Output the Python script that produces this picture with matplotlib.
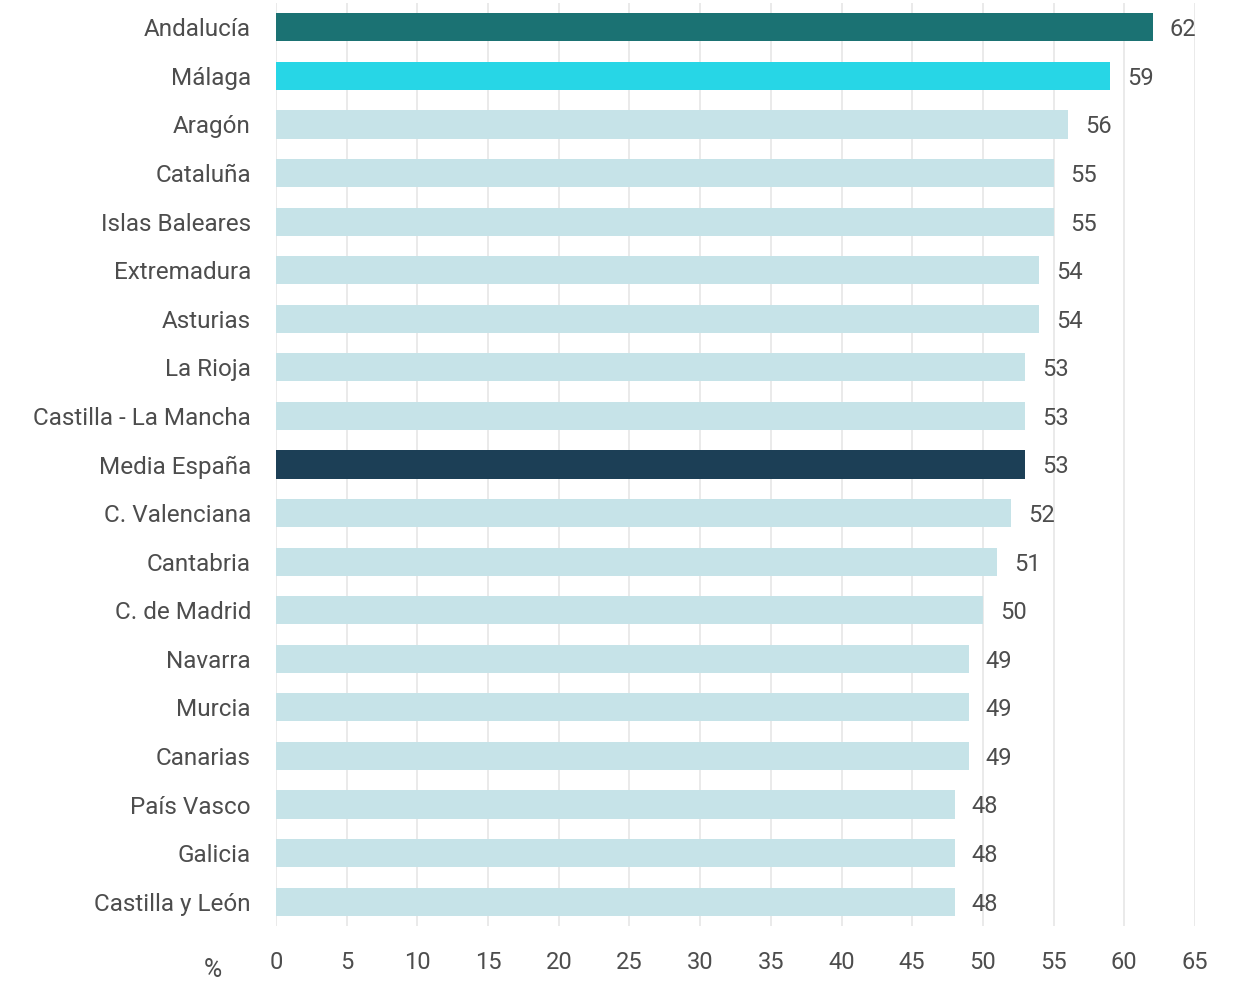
import matplotlib
matplotlib.use("Agg")
import matplotlib.pyplot as plt

categories = ["Andalucía", "Málaga", "Aragón", "Cataluña", "Islas Baleares",
              "Extremadura", "Asturias", "La Rioja", "Castilla - La Mancha",
              "Media España", "C. Valenciana", "Cantabria", "C. de Madrid",
              "Navarra", "Murcia", "Canarias", "País Vasco", "Galicia",
              "Castilla y León"]
values = [62, 59, 56, 55, 55, 54, 54, 53, 53, 53, 52, 51, 50, 49, 49, 49, 48, 48, 48]
xticks = [0, 5, 10, 15, 20, 25, 30, 35, 40, 45, 50, 55, 60, 65]

special = {"Andalucía": "#1b7273", "Málaga": "#27d6e6", "Media España": "#1c3f56"}
default_color = "#c6e3e8"
colors = [special.get(c, default_color) for c in categories]

plt.rcParams['font.family'] = ['Roboto', 'DejaVu Sans']
text_color = "#4d4d4d"

fig = plt.figure(figsize=(12.45, 9.85), dpi=100)
ax = fig.add_axes([276/1245, 1 - 926/985, (1195 - 276)/1245, (926 - 3)/985])

y = list(range(len(categories)))
ax.barh(y, values, height=0.58, color=colors, zorder=2)
for yi, v in zip(y, values):
    ax.text(v + 1.2, yi + 0.05, str(v), va="center", ha="left", fontsize=17,
            color=text_color, clip_on=False)

ax.set_xlim(0, 65)
ax.set_ylim(len(categories) - 0.5, -0.5)
ax.set_yticks(y)
ax.set_yticklabels(categories, fontsize=17.5, color=text_color)
ax.set_xticks(xticks)
ax.set_xticklabels([str(t) for t in xticks], fontsize=17, color=text_color)
ax.tick_params(axis="both", length=0)
ax.tick_params(axis="y", pad=18)
ax.tick_params(axis="x", pad=18)
for s in ax.spines.values():
    s.set_visible(False)
ax.grid(axis="x", color="#e6e6e6", linewidth=1.2, zorder=0)
ax.set_axisbelow(True)

fig.text(213/1245, 1 - 970/985, "%", fontsize=18, color=text_color,
         ha="center", va="center")

fig.savefig("out.png", dpi=100)
